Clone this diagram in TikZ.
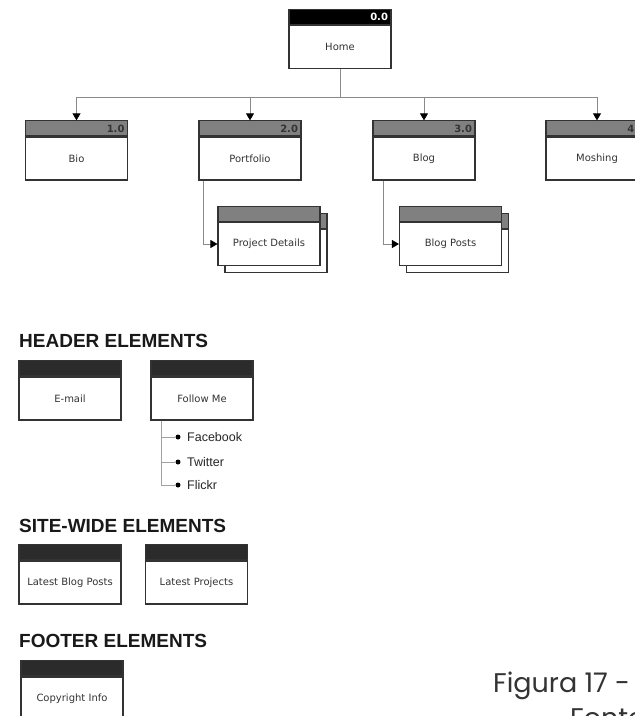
\documentclass[tikz,border=0pt]{standalone}
\usepackage{fontspec}
\setmainfont{DejaVu Sans}
\newfontfamily\titlefont{Liberation Sans}
\newfontfamily\capfont{Poppins}
\usetikzlibrary{arrows.meta}

\definecolor{frame}{HTML}{333333}
\definecolor{midgray}{HTML}{808080}
\definecolor{darkband}{HTML}{2B2B2B}
\definecolor{wire}{HTML}{8A8A8A}
\definecolor{inktext}{HTML}{333333}

\tikzset{
  pagebody/.style={draw=frame, line width=1.1pt, fill=white,
    minimum width=102pt, minimum height=43pt, inner sep=0pt,
    font=\fontsize{10}{12}\selectfont, text=inktext},
  band/.style={draw=frame, line width=1.1pt, fill=#1,
    minimum width=102pt, minimum height=15pt, text width=96pt,
    align=right, inner sep=0pt, font=\fontsize{10}{12}\selectfont\bfseries},
  link/.style={draw=wire, line width=0.8pt,
    -{Triangle[length=7pt,width=8pt,color=black,fill=black]}},
  listwire/.style={draw=wire!80, line width=0.8pt},
  bullet/.style={circle, fill=black, minimum size=5pt, inner sep=0pt},
  listitem/.style={anchor=west, inner sep=0pt, text=black!85,
    font=\titlefont\fontsize{12.5}{14}\selectfont},
  sectiontitle/.style={anchor=base west, inner sep=0pt, text=black!90,
    font=\titlefont\bfseries\fontsize{19}{22}\selectfont},
  caption/.style={anchor=base west, inner sep=0pt, text=inktext,
    font=\capfont\fontsize{27}{32}\selectfont},
}

% page box: name, body centre, label, number, band colour, number colour
\newcommand\sitepage[6]{%
  \node[pagebody] (#1) at (#2) {#3};
  \node[band=#5, text=#6, anchor=south] (#1-h) at (#1.north) {#4};
}

\begin{document}
\begin{tikzpicture}[x=1pt,y=-1pt]
\clip (0,0) rectangle (635,716);
\fill[white] (0,0) rectangle (635,716);

% site map
\sitepage{home}{340,47}{Home}{0.0}{black}{white}
\sitepage{bio}{76.5,158.5}{Bio}{1.0}{midgray}{inktext}
\sitepage{portfolio}{250,158.5}{Portfolio}{2.0}{midgray}{inktext}
\sitepage{blog}{424,158.5}{Blog}{3.0}{midgray}{inktext}
\sitepage{moshing}{597,158.5}{Moshing}{4.0}{midgray}{inktext}

\sitepage{pd-back}{276,251}{}{}{midgray}{inktext}
\sitepage{pd}{269,244}{Project Details}{}{midgray}{inktext}
\sitepage{bp-back}{457.5,251}{}{}{midgray}{inktext}
\sitepage{bp}{450.5,244}{Blog Posts}{}{midgray}{inktext}

\draw[link] (home.south) -- ++(0,28) -| (bio-h.north);
\draw[link] (home.south) -- ++(0,28) -| (portfolio-h.north);
\draw[link] (home.south) -- ++(0,28) -| (blog-h.north);
\draw[link] (home.south) -- ++(0,28) -| (moshing-h.north);
\draw[link] ([xshift=5pt]portfolio.south west) |- (pd.west);
\draw[link] ([xshift=11pt]blog.south west) |- (bp.west);

% header elements
\node[sectiontitle] (hdr-title) at (19,347) {HEADER ELEMENTS};
\sitepage{email}{70,398.5}{E-mail}{}{darkband}{white}
\sitepage{follow}{202,398.5}{Follow Me}{}{darkband}{white}

\node[bullet] (fb-dot) at (178,437) {};
\node[bullet] (tw-dot) at (178,462) {};
\node[bullet] (fl-dot) at (178,485) {};
\node[listitem] (fb) at (187,437) {Facebook};
\node[listitem] (tw) at (187,462) {Twitter};
\node[listitem] (fl) at (187,485) {Flickr};
\draw[listwire] ([xshift=11pt]follow.south west) |- (fb-dot);
\draw[listwire] ([xshift=11pt]follow.south west) |- (tw-dot);
\draw[listwire] ([xshift=11pt]follow.south west) |- (fl-dot);

% site-wide elements
\node[sectiontitle] (site-title) at (19,532) {SITE-WIDE ELEMENTS};
\sitepage{latestposts}{70,582.5}{Latest Blog Posts}{}{darkband}{white}
\sitepage{latestprojects}{196.5,582.5}{Latest Projects}{}{darkband}{white}

% footer elements
\node[sectiontitle] (foot-title) at (19,647) {FOOTER ELEMENTS};
\sitepage{copyright}{72,698.5}{Copyright Info}{}{darkband}{white}

% caption
\node[caption] (cap1) at (493,692) {Figura 17 -};
\node[caption] (cap2) at (570,727) {Fonte};
\end{tikzpicture}
\end{document}
